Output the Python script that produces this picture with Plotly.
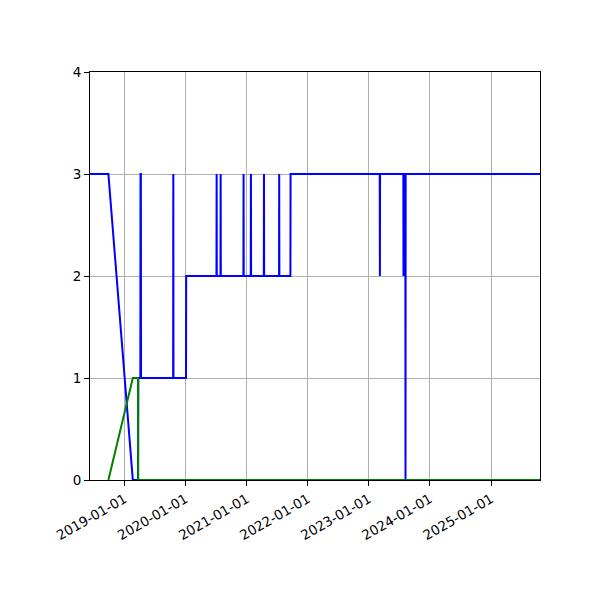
"""Status level over time, two series, matplotlib-like styling."""
import plotly.graph_objects as go

# blue series: status level
blue_dates = [
    "2018-06-09", "2018-09-27", "2019-02-20", "2019-03-23", "2019-03-25",
    "2019-04-06", "2019-04-07", "2019-04-09", "2019-04-10",
    "2019-10-19", "2019-10-20", "2019-10-21",
    "2020-01-04", "2020-01-05",
    "2020-07-04", "2020-07-05", "2020-07-06",
    "2020-07-28", "2020-07-29", "2020-07-30",
    "2020-12-12", "2020-12-13", "2020-12-14",
    "2021-01-25", "2021-01-26", "2021-01-27",
    "2021-04-13", "2021-04-14", "2021-04-15",
    "2021-07-13", "2021-07-14", "2021-07-15",
    "2021-09-19", "2021-09-20",
    "2023-03-07", "2023-03-08", "2023-03-09",
    "2023-07-26", "2023-07-27", "2023-07-28",
    "2023-08-07", "2023-08-08", "2023-08-09",
    "2025-10-20",
]
blue_values = [
    3, 3, 0, 0, 1,
    1, 3, 3, 1,
    1, 3, 1,
    1, 2,
    2, 3, 2,
    2, 3, 2,
    2, 3, 2,
    2, 3, 2,
    2, 3, 2,
    2, 3, 2,
    2, 3,
    3, 2, 3,
    3, 2, 3,
    3, 0, 3,
    3,
]

# green series
green_dates = ["2018-09-27", "2019-02-20", "2019-03-23", "2019-03-24", "2025-10-20"]
green_values = [0, 1, 1, 0, 0]

# tick labels
x_ticks = ["2019-01-01", "2020-01-01", "2021-01-01", "2022-01-01",
           "2023-01-01", "2024-01-01", "2025-01-01"]
y_ticks = [0, 1, 2, 3, 4]

fig = go.Figure()

fig.add_trace(go.Scatter(
    x=blue_dates, y=blue_values, mode="lines",
    line=dict(color="#0000ff", width=2),
))
fig.add_trace(go.Scatter(
    x=green_dates, y=green_values, mode="lines",
    line=dict(color="#008000", width=2),
))

axis_style = dict(
    showline=True, linecolor="black", linewidth=1.1, mirror=True,
    ticks="outside", ticklen=5, tickcolor="black", tickwidth=1.1,
    showgrid=True, gridcolor="#b0b0b0", gridwidth=1.1,
    zeroline=False,
)

# page body adds 8px, so margins are shifted to land the axes at 90..540 / 72..480
fig.update_layout(
    width=600, height=600,
    margin=dict(l=82, r=68, t=64, b=128),
    plot_bgcolor="white", paper_bgcolor="white",
    showlegend=False,
    font=dict(family="DejaVu Sans", size=13.5, color="black"),
    xaxis=dict(
        range=["2018-06-09", "2025-10-20"],
        tickvals=x_ticks, ticktext=x_ticks, tickangle=-30,
        **axis_style,
    ),
    yaxis=dict(
        range=[0, 4], tickvals=y_ticks,
        **axis_style,
    ),
)

fig.write_html("out.html")
